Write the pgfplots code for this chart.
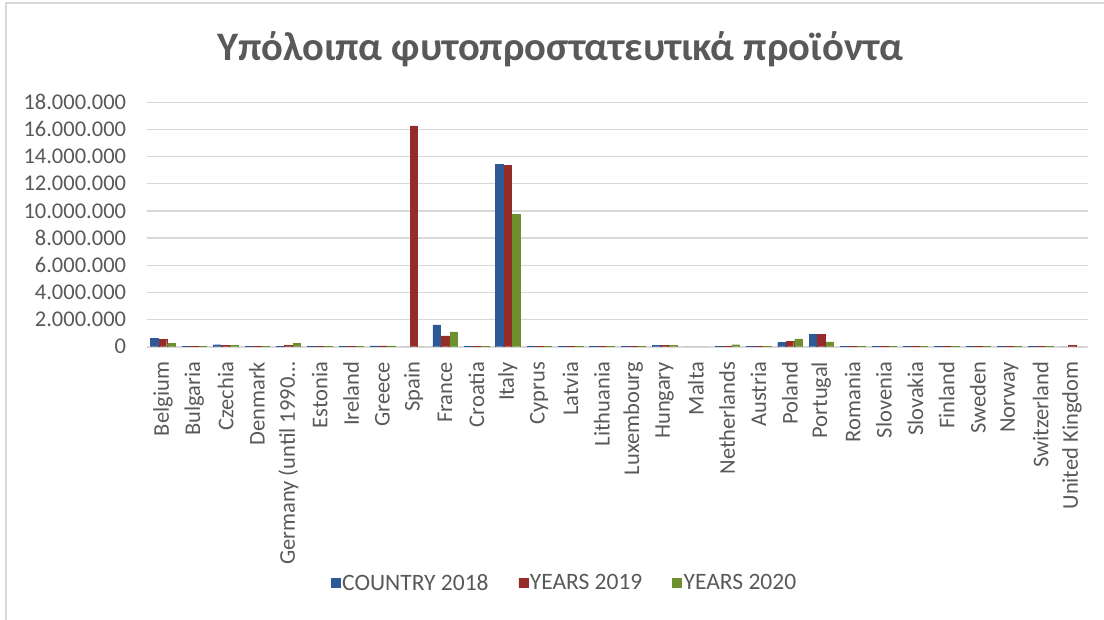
\documentclass[border=0pt]{standalone}
\usepackage{pgfplots}
\pgfplotsset{compat=1.18}
\usepackage{fontspec}
\setmainfont{Carlito}

\definecolor{txt}{HTML}{595959}
\definecolor{gridc}{HTML}{D9D9D9}
\definecolor{bluD}{HTML}{2D5A96}
\definecolor{bluL}{HTML}{5B90D4}
\definecolor{redD}{HTML}{962C29}
\definecolor{redL}{HTML}{D45652}
\definecolor{grnD}{HTML}{6E8F2E}
\definecolor{grnL}{HTML}{A6C760}

\begin{document}
\begin{tikzpicture}[x=1bp,y=1bp]
\path[use as bounding box] (0,0) rectangle (1104,-620);
% chart frame
\draw[gridc, line width=1.2bp] (6,-620) -- (6,-3) -- (1104,-3);
% title
\node[txt, anchor=base, inner sep=0pt, font=\fontsize{40.5bp}{46bp}\selectfont\bfseries]
  at (560,-61) {Υπόλοιπα φυτοπροστατευτικά προϊόντα};

\begin{axis}[
  at={(147.3bp,-346.7bp)}, anchor=south west,
  scale only axis, width=940.4bp, height=244.4bp,
  xmin=-0.5, xmax=29.5, ymin=0, ymax=18000000,
  axis x line*=bottom, axis y line*=left,
  x axis line style={gridc, line width=1.6bp, -},
  y axis line style={draw=none},
  major tick length=0pt,
  ytick={0,2000000,...,18000000},
  ymajorgrids, major grid style={gridc, line width=1.2bp},
  scaled y ticks=false,
  /pgf/number format/assume math mode=true,
  yticklabel style={/pgf/number format/.cd, fixed, precision=0, 1000 sep={.}},
  tick label style={txt, font=\fontsize{22.5bp}{26bp}\selectfont, inner sep=0pt},
  yticklabel shift=21bp,
  xtick={0,...,29},
  xticklabels={Belgium,Bulgaria,Czechia,Denmark,{Germany (until 1990…},Estonia,Ireland,Greece,Spain,France,Croatia,Italy,Cyprus,Latvia,Lithuania,Luxembourg,Hungary,Malta,Netherlands,Austria,Poland,Portugal,Romania,Slovenia,Slovakia,Finland,Sweden,Norway,Switzerland,United Kingdom},
  xticklabel style={rotate=90, anchor=east},
  xticklabel shift=15bp,
  legend columns=3,
  legend style={at={(0.4437,-0.967)}, anchor=center, draw=none, fill=none,
    font=\fontsize{23.5bp}{27bp}\selectfont, text=txt,
    nodes={inner sep=2bp},
    /tikz/every even column/.append style={column sep=28bp}},
  legend image code/.code={\fill[#1] (0bp,-4.5bp) rectangle (9bp,4.5bp);},
]
% 2018
\addplot[ybar, bar width=7.5bp, bar shift=-8.5bp, draw=bluD, line width=0.3bp,
  left color=bluD, middle color=bluL, right color=bluD] coordinates {
(0,640000) (1,10000) (2,150000) (3,10000) (4,40000) (5,5000) (6,5000) (7,60000)
(8,0) (9,1600000) (10,5000) (11,13450000) (12,20000) (13,5000) (14,5000) (15,5000)
(16,80000) (17,0) (18,20000) (19,10000) (20,300000) (21,930000) (22,10000) (23,5000)
(24,10000) (25,5000) (26,5000) (27,5000) (28,10000) (29,0)};
\addlegendentry{COUNTRY 2018}
% 2019
\addplot[ybar, bar width=7.5bp, bar shift=0bp, draw=redD, line width=0.3bp,
  left color=redD, middle color=redL, right color=redD] coordinates {
(0,540000) (1,10000) (2,120000) (3,10000) (4,80000) (5,5000) (6,5000) (7,60000)
(8,16270000) (9,790000) (10,5000) (11,13360000) (12,20000) (13,5000) (14,5000) (15,5000)
(16,100000) (17,0) (18,20000) (19,10000) (20,420000) (21,910000) (22,10000) (23,5000)
(24,10000) (25,5000) (26,5000) (27,5000) (28,10000) (29,120000)};
\addlegendentry{YEARS 2019}
% 2020
\addplot[ybar, bar width=7.5bp, bar shift=8.5bp, draw=grnD, line width=0.3bp,
  left color=grnD, middle color=grnL, right color=grnD] coordinates {
(0,250000) (1,10000) (2,80000) (3,10000) (4,250000) (5,5000) (6,5000) (7,70000)
(8,0) (9,1100000) (10,5000) (11,9750000) (12,20000) (13,5000) (14,5000) (15,5000)
(16,100000) (17,0) (18,150000) (19,10000) (20,570000) (21,350000) (22,10000) (23,5000)
(24,10000) (25,5000) (26,5000) (27,5000) (28,10000) (29,0)};
\addlegendentry{YEARS 2020}
\end{axis}
\end{tikzpicture}
\end{document}
